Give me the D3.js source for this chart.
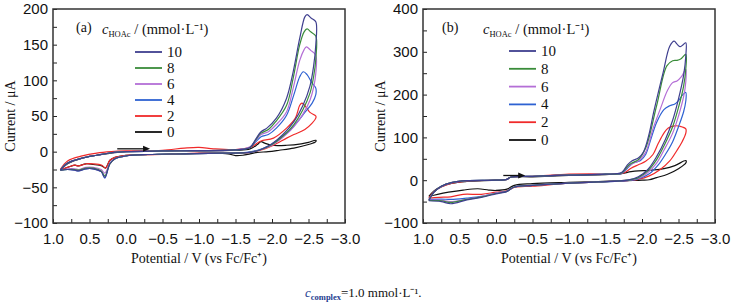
<!DOCTYPE html>
<html>
<head>
<meta charset="utf-8">
<script src="https://cdn.jsdelivr.net/npm/d3@7"></script>
<style>
  html, body { margin: 0; padding: 0; background: #fff; }
  svg { display: block; font-family: "Liberation Serif", "Times New Roman", serif; }
</style>
</head>
<body>
<svg id="chart" width="731" height="304"></svg>
<script>
// concentrations (mmol/L) and colours, same order in both panels
const concs = ['10', '8', '6', '4', '2', '0'];
const colors = ['#3f3f8f', '#3a8c3a', '#b46fd6', '#2e62d2', '#f02a2a', '#111111'];

// panel (a): [potential V, current uA], forward scan then return scan
const a10 = [[0.9,-26],[0.8,-16],[0.6,-9],[0.4,-5],[0.2,-1.5],[0,0],[-0.5,1],[-1,1.5],[-1.5,2.5],[-1.7,6],[-1.78,18],[-1.85,28],[-1.93,33],[-2.06,47],[-2.2,75],[-2.29,112],[-2.38,159],[-2.45,189],[-2.48,192],[-2.54,187],[-2.6,182],
  [-2.6,150],[-2.57,120],[-2.52,92],[-2.42,64],[-2.3,42],[-2.15,24],[-2.0,11],[-1.85,3],[-1.7,-1],[-1.3,-2],[-0.8,-3],[-0.3,-4],[0,-6],[0.15,-10],[0.22,-17],[0.29,-36],[0.34,-28],[0.45,-24],[0.55,-24],[0.65,-27],[0.7,-26],[0.8,-25],[0.9,-26]];
const a8 = [[0.9,-26],[0.8,-16],[0.6,-9],[0.4,-5],[0.2,-1.5],[0,0],[-0.5,1],[-1,1.5],[-1.5,2.5],[-1.7,6],[-1.78,17],[-1.85,26],[-1.95,31],[-2.05,42],[-2.2,65],[-2.29,103],[-2.38,150],[-2.44,168],[-2.48,172],[-2.53,168],[-2.6,162],
  [-2.6,130],[-2.57,105],[-2.52,82],[-2.42,58],[-2.3,38],[-2.15,22],[-2.0,10],[-1.85,3],[-1.7,-1],[-1.3,-2],[-0.8,-3],[-0.3,-4],[0,-6],[0.15,-10],[0.22,-17],[0.29,-34],[0.34,-27],[0.45,-23],[0.55,-23],[0.65,-26],[0.7,-25],[0.8,-25],[0.9,-26]];
const a6 = [[0.9,-26],[0.8,-16],[0.6,-9],[0.4,-5],[0.2,-1.5],[0,0],[-0.5,1],[-1,1.5],[-1.5,2.5],[-1.7,7],[-1.78,16],[-1.85,24],[-1.95,28],[-2.05,37],[-2.2,56],[-2.29,89],[-2.38,128],[-2.44,143],[-2.47,147],[-2.53,142],[-2.6,135],
  [-2.6,110],[-2.57,90],[-2.52,72],[-2.42,52],[-2.3,35],[-2.15,20],[-2.0,9],[-1.85,3],[-1.7,-1],[-1.3,-2],[-0.8,-3],[-0.3,-4],[0,-6],[0.15,-10],[0.22,-16],[0.29,-30],[0.34,-25],[0.45,-22],[0.55,-22],[0.65,-25],[0.7,-24],[0.8,-24],[0.9,-26]];
const a4 = [[0.9,-26],[0.8,-16],[0.6,-9],[0.4,-5],[0.2,-1.5],[0,0],[-0.5,1],[-1,1.5],[-1.5,2.5],[-1.7,6],[-1.78,14],[-1.85,21],[-1.95,24],[-2.06,33],[-2.2,51],[-2.3,80],[-2.38,105],[-2.43,112],[-2.48,108],[-2.55,96],[-2.6,89],
  [-2.6,80],[-2.55,68],[-2.45,55],[-2.35,42],[-2.25,30],[-2.1,18],[-1.95,8],[-1.8,2],[-1.65,-1],[-1.3,-2],[-0.8,-3],[-0.3,-4],[0,-6],[0.15,-10],[0.22,-16],[0.29,-37],[0.34,-28],[0.45,-24],[0.55,-24],[0.65,-27],[0.7,-26],[0.8,-25],[0.9,-26]];
const a2 = [[0.9,-25],[0.8,-13],[0.6,-6],[0.4,-2],[0.2,0],[0,1],[-0.5,2],[-0.8,5],[-1.0,6],[-1.2,4],[-1.5,3],[-1.7,6],[-1.8,12],[-1.85,15],[-2.02,19],[-2.2,33],[-2.32,47],[-2.38,65],[-2.41,68],[-2.47,62],[-2.52,55],[-2.6,50],
  [-2.6,47],[-2.55,40],[-2.45,31],[-2.3,24],[-2.2,19],[-2.02,9],[-1.9,4],[-1.75,0],[-1.6,-2],[-1.3,-2],[-1.0,-2],[-0.5,-4],[0,-5],[0.15,-8],[0.22,-12],[0.28,-23],[0.33,-19],[0.45,-17],[0.55,-17],[0.65,-20],[0.7,-19],[0.8,-22],[0.9,-25]];
const a0 = [[0.9,-26],[0.8,-17],[0.6,-9],[0.4,-5],[0.2,-2],[0,0],[-0.5,1],[-1,1],[-1.5,2],[-1.7,4],[-1.8,10],[-1.85,14],[-1.9,12],[-2.0,9],[-2.2,9],[-2.4,11],[-2.5,13],[-2.6,16],
  [-2.6,14],[-2.5,10],[-2.3,5],[-2.1,2],[-1.95,0],[-1.8,-1],[-1.7,-3],[-1.6,-5],[-1.5,-5.5],[-1.4,-3],[-1.2,-2],[-0.8,-3],[-0.4,-4],[0,-5],[0.15,-8],[0.22,-12],[0.28,-23],[0.33,-20],[0.45,-18],[0.55,-17],[0.65,-20],[0.7,-19],[0.8,-22],[0.9,-26]];

// panel (b)
const b10 = [[0.92,-48],[0.85,-28],[0.75,-14],[0.6,-5],[0.4,-1],[0,0],[-0.15,2],[-0.2,7],[-0.5,9],[-1.0,12],[-1.5,14],[-1.72,18],[-1.8,36],[-1.86,45],[-1.95,52],[-2.02,66],[-2.1,110],[-2.16,159],[-2.29,252],[-2.38,313],[-2.44,325],[-2.48,318],[-2.52,312],[-2.56,316],[-2.6,321],
  [-2.6,290],[-2.57,245],[-2.5,190],[-2.42,140],[-2.32,95],[-2.2,55],[-2.08,25],[-1.95,8],[-1.8,0],[-1.4,-4],[-1.0,-7],[-0.5,-12],[-0.25,-16],[-0.15,-26],[0,-32],[0.2,-40],[0.4,-46],[0.62,-55],[0.75,-50],[0.92,-48]];
const b8 = [[0.92,-47],[0.85,-28],[0.75,-14],[0.6,-5],[0.4,-1],[0,0],[-0.15,2],[-0.2,7],[-0.5,9],[-1.0,12],[-1.5,14],[-1.72,17],[-1.8,32],[-1.86,40],[-1.95,48],[-2.05,75],[-2.2,174],[-2.34,267],[-2.42,279],[-2.48,280],[-2.53,283],[-2.6,294],
  [-2.6,260],[-2.57,220],[-2.5,170],[-2.42,125],[-2.3,80],[-2.2,48],[-2.08,22],[-1.95,6],[-1.8,0],[-1.4,-4],[-1.0,-7],[-0.5,-12],[-0.25,-16],[-0.15,-26],[0,-31],[0.2,-39],[0.4,-45],[0.62,-52],[0.75,-48],[0.92,-47]];
const b6 = [[0.92,-46],[0.85,-28],[0.75,-14],[0.6,-5],[0.4,-1],[0,0],[-0.15,2],[-0.2,7],[-0.5,9],[-1.0,12],[-1.5,14],[-1.72,17],[-1.8,30],[-1.86,38],[-1.95,45],[-2.05,65],[-2.15,120],[-2.25,166],[-2.35,210],[-2.42,228],[-2.48,232],[-2.54,242],[-2.6,259],
  [-2.6,230],[-2.57,195],[-2.5,150],[-2.42,110],[-2.3,70],[-2.2,40],[-2.08,18],[-1.95,4],[-1.8,0],[-1.4,-4],[-1.0,-7],[-0.5,-12],[-0.25,-16],[-0.15,-26],[0,-30],[0.2,-38],[0.4,-44],[0.62,-50],[0.75,-47],[0.92,-46]];
const b4 = [[0.92,-45],[0.85,-28],[0.75,-15],[0.6,-6],[0.4,-1],[0,0],[-0.15,2],[-0.2,7],[-0.5,9],[-1.0,12],[-1.5,14],[-1.72,16],[-1.8,28],[-1.88,40],[-1.98,46],[-2.05,60],[-2.12,95],[-2.2,135],[-2.3,165],[-2.38,174],[-2.45,178],[-2.5,186],[-2.56,200],[-2.6,205],
  [-2.6,185],[-2.57,160],[-2.5,125],[-2.42,90],[-2.32,60],[-2.22,35],[-2.1,15],[-1.95,3],[-1.8,-1],[-1.4,-4],[-1.0,-7],[-0.5,-12],[-0.25,-16],[-0.15,-26],[0,-30],[0.2,-38],[0.4,-42],[0.62,-45],[0.75,-44],[0.92,-45]];
const b2 = [[0.92,-42],[0.85,-27],[0.75,-16],[0.6,-7],[0.4,-2],[0,0],[-0.15,2],[-0.2,7],[-0.5,9],[-1.0,14],[-1.3,15],[-1.6,14],[-1.75,17],[-1.85,28],[-1.95,36],[-2.05,44],[-2.15,60],[-2.22,85],[-2.3,110],[-2.36,122],[-2.45,127],[-2.52,126],[-2.6,120],
  [-2.6,110],[-2.55,90],[-2.48,70],[-2.38,45],[-2.25,25],[-2.1,10],[-1.95,2],[-1.8,-1],[-1.4,-4],[-1.0,-7],[-0.5,-14],[-0.25,-17],[-0.15,-25],[0,-28],[0.2,-33],[0.45,-33],[0.62,-39],[0.78,-40],[0.92,-42]];
const b0 = [[0.92,-38],[0.85,-25],[0.75,-15],[0.6,-7],[0.4,-3],[0,0],[-0.15,2],[-0.2,7],[-0.5,8],[-1.0,11],[-1.5,13],[-1.7,15],[-1.85,20],[-1.95,22],[-2.1,23],[-2.3,27],[-2.45,34],[-2.6,46],
  [-2.6,40],[-2.5,27],[-2.35,14],[-2.2,6],[-2.1,1],[-2.0,0],[-1.8,-1],[-1.4,-3],[-1.0,-5],[-0.5,-8],[-0.25,-12],[-0.15,-21],[0,-24],[0.1,-23],[0.25,-20],[0.45,-23],[0.65,-28],[0.8,-33],[0.92,-38]];

const seriesA = [a10, a8, a6, a4, a2, a0];
const seriesB = [b10, b8, b6, b4, b2, b0];

const xTicks = d3.range(1, -3.01, -0.25);
const xLabels = [1, 0.5, 0, -0.5, -1, -1.5, -2, -2.5, -3];

const svg = d3.select('#chart');
const fmt = d3.format('.1f');
const minus = s => s.replace('-', '\u2212');

function panel(opt) {
  const x = d3.scaleLinear().domain([1, -3]).range([opt.left, opt.right]);
  const y = d3.scaleLinear().domain(opt.yDomain).range([223, 9]);
  const g = svg.append('g');

  // Eix X
  g.append('g')
    .attr('transform', `translate(0,${y.range()[0]})`)
    .call(d3.axisBottom(x).tickValues(xTicks).tickSize(-4).tickPadding(10)
      .tickFormat(d => xLabels.some(v => Math.abs(v - d) < 1e-6) ? minus(fmt(d)) : ''))
    .call(s => s.select('.domain').remove())
    .call(s => s.selectAll('text').attr('font-size', 15).attr('fill', '#111'))
    .call(s => s.selectAll('line').attr('stroke', '#222'));

  // Eix Y
  g.append('g')
    .attr('transform', `translate(${opt.left},0)`)
    .call(d3.axisLeft(y).tickValues(opt.yTicks).tickSize(-4).tickPadding(5)
      .tickFormat(d => opt.yLabels.includes(d) ? minus(String(d)) : ''))
    .call(s => s.select('.domain').remove())
    .call(s => s.selectAll('text').attr('font-size', 15).attr('fill', '#111'))
    .call(s => s.selectAll('line').attr('stroke', '#222'));

  // Corbes
  const line = d3.line().x(d => x(d[0])).y(d => y(d[1])).curve(d3.curveCatmullRom.alpha(0.5));
  opt.series.slice().reverse().forEach((d, i) => {
    g.append('path')
      .datum(d)
      .attr('fill', 'none')
      .attr('stroke', colors[colors.length - 1 - i])
      .attr('stroke-width', 1.2)
      .attr('d', line);
  });

  // Marc
  g.append('rect')
    .attr('x', opt.left).attr('y', 9)
    .attr('width', opt.right - opt.left).attr('height', 214)
    .attr('fill', 'none').attr('stroke', '#333').attr('stroke-width', 1.5);

  // Fletxa de direcció d'escombrat
  const ax0 = x(opt.arrow[0]), ax1 = x(opt.arrow[1]), ay = y(opt.arrow[2]);
  g.append('line').attr('x1', ax0).attr('x2', ax1 - 4).attr('y1', ay).attr('y2', ay)
    .attr('stroke', '#111').attr('stroke-width', 1.3);
  g.append('path').attr('d', `M${ax1},${ay}L${ax1 - 7},${ay - 3}L${ax1 - 7},${ay + 3}Z`).attr('fill', '#111');

  // Títols dels eixos
  g.append('text')
    .attr('x', (opt.left + opt.right) / 2).attr('y', 263)
    .attr('text-anchor', 'middle').attr('font-size', 14).attr('fill', '#111')
    .text('Potential / V (vs Fc/Fc\u207A)');
  g.append('text')
    .attr('transform', `translate(${opt.left - 38},116) rotate(-90)`)
    .attr('text-anchor', 'middle').attr('font-size', 14).attr('fill', '#111')
    .text('Current / \u03BCA');

  // Llegenda
  g.append('text').attr('x', opt.tag[0]).attr('y', opt.tag[1])
    .attr('font-size', 14).attr('fill', '#111').text(opt.name);
  const t = g.append('text').attr('x', opt.title[0]).attr('y', opt.title[1])
    .attr('font-size', 14.5).attr('fill', '#111');
  t.append('tspan').attr('font-style', 'italic').text('c');
  t.append('tspan').attr('font-size', 8.5).attr('dy', 3).text('HOAc');
  t.append('tspan').attr('dy', -3).text(' / (mmol\u00B7L\u207B\u00B9)');

  concs.forEach((c, i) => {
    const ly = opt.leg.y0 + i * opt.leg.dy;
    g.append('line').attr('x1', opt.leg.x).attr('x2', opt.leg.x + 27)
      .attr('y1', ly).attr('y2', ly)
      .attr('stroke', colors[i]).attr('stroke-width', 1.8);
    g.append('text').attr('x', opt.leg.x + 32).attr('y', ly + 5)
      .attr('font-size', 15).attr('fill', '#111').text(c);
  });
}

panel({
  left: 53, right: 345, yDomain: [-100, 200],
  yTicks: d3.range(-100, 201, 25), yLabels: [-100, -50, 0, 50, 100, 150, 200],
  series: seriesA, name: '(a)', tag: [76, 32], title: [102, 34],
  leg: { x: 135, y0: 52, dy: 16 }, arrow: [0.12, -0.33, 4]
});
panel({
  left: 423, right: 715, yDomain: [-100, 400],
  yTicks: d3.range(-100, 401, 50), yLabels: [-100, 0, 100, 200, 300, 400],
  series: seriesB, name: '(b)', tag: [442, 32], title: [483, 34],
  leg: { x: 509, y0: 51, dy: 17.8 }, arrow: [-0.1, -0.4, 11]
});

// Peu
const cap = svg.append('text').attr('x', 305).attr('y', 297).attr('font-size', 13).attr('fill', '#111');
cap.append('tspan').attr('font-style', 'italic').attr('fill', '#1d3c8f').text('c');
cap.append('tspan').attr('font-size', 8.5).attr('font-weight', 'bold').attr('fill', '#1d3c8f').attr('dy', 3).text('complex');
cap.append('tspan').attr('dy', -3).text('=1.0 mmol\u00B7L\u207B\u00B9.');
</script>
</body>
</html>
